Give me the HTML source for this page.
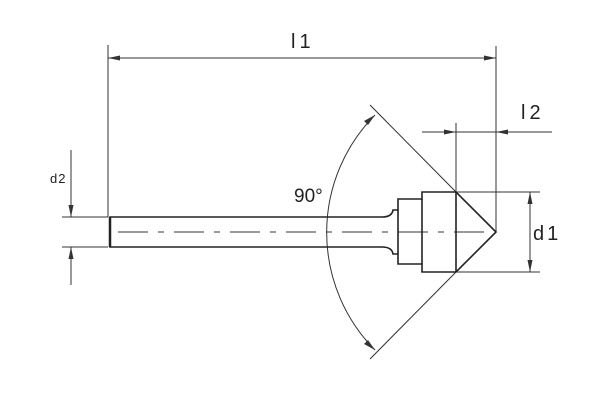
<!DOCTYPE html>
<html><head><style>body{margin:0;background:#fff}svg{display:block}</style></head>
<body>
<svg width="600" height="407" viewBox="0 0 600 407" xmlns="http://www.w3.org/2000/svg" font-family="Liberation Sans, DejaVu Sans, sans-serif">
<g stroke="#333" fill="none" stroke-width="1">
<line x1="108" y1="45" x2="108" y2="217"/>
<line x1="496" y1="46" x2="496" y2="232"/>
<line x1="108" y1="58" x2="496" y2="58"/>
<line x1="456" y1="123" x2="456" y2="192"/>
<line x1="422" y1="132" x2="552" y2="132"/>
<line x1="456" y1="192" x2="540" y2="192"/>
<line x1="456" y1="272" x2="540" y2="272"/>
<line x1="530" y1="192" x2="530" y2="272"/>
<line x1="62" y1="217" x2="108" y2="217"/>
<line x1="62" y1="247" x2="108" y2="247"/>
<line x1="71" y1="150" x2="71" y2="217"/>
<line x1="71" y1="247" x2="71" y2="285"/>
<line x1="456" y1="192" x2="370" y2="105"/>
<line x1="456" y1="272" x2="370" y2="359"/>
<path d="M375 115 A167 167 0 0 0 375 350"/>
<line x1="118" y1="232" x2="490" y2="232" stroke-dasharray="30,10,6,10" stroke-width="0.9"/>
</g>
<g stroke="#222" fill="none" stroke-width="1.6">
<path d="M110 217 L382 217 Q392 217 393 210 L398 210 L398 199 L422 199 L422 192 L456 192 L496 232 L456 272 L422 272 L422 264 L398 264 L398 254 L393 254 Q392 247 382 247 L110 247 Z"/>
<line x1="110" y1="217" x2="110" y2="247" stroke-width="2.5"/>
<line x1="422" y1="199" x2="422" y2="264"/>
<line x1="456" y1="192" x2="456" y2="272"/>
<line x1="398" y1="210" x2="398" y2="254"/>
</g>
<g fill="#333">
<polygon points="108,58 120,55.5 120,60.5"/>
<polygon points="496,58 484,55.5 484,60.5"/>
<polygon points="456,132 444,129.5 444,134.5"/>
<polygon points="496,132 508,129.5 508,134.5"/>
<polygon points="530,192 527.5,204 532.5,204"/>
<polygon points="530,272 527.5,260 532.5,260"/>
<polygon points="71,217 68.5,205 73.5,205"/>
<polygon points="71,247 68.5,259 73.5,259"/>
<polygon points="375,115 364,121 368,125"/>
<polygon points="375,350 364,344 368,340"/>
</g>
<g fill="#222">
<text x="291" y="48" font-size="20" letter-spacing="4">l1</text>
<text x="521" y="119" font-size="20" letter-spacing="4">l2</text>
<text x="533" y="240" font-size="20" letter-spacing="3">d1</text>
<text x="50" y="183" font-size="13" letter-spacing="1">d2</text>
<text x="294" y="202" font-size="19">90°</text>
</g>
</svg>
</body></html>
